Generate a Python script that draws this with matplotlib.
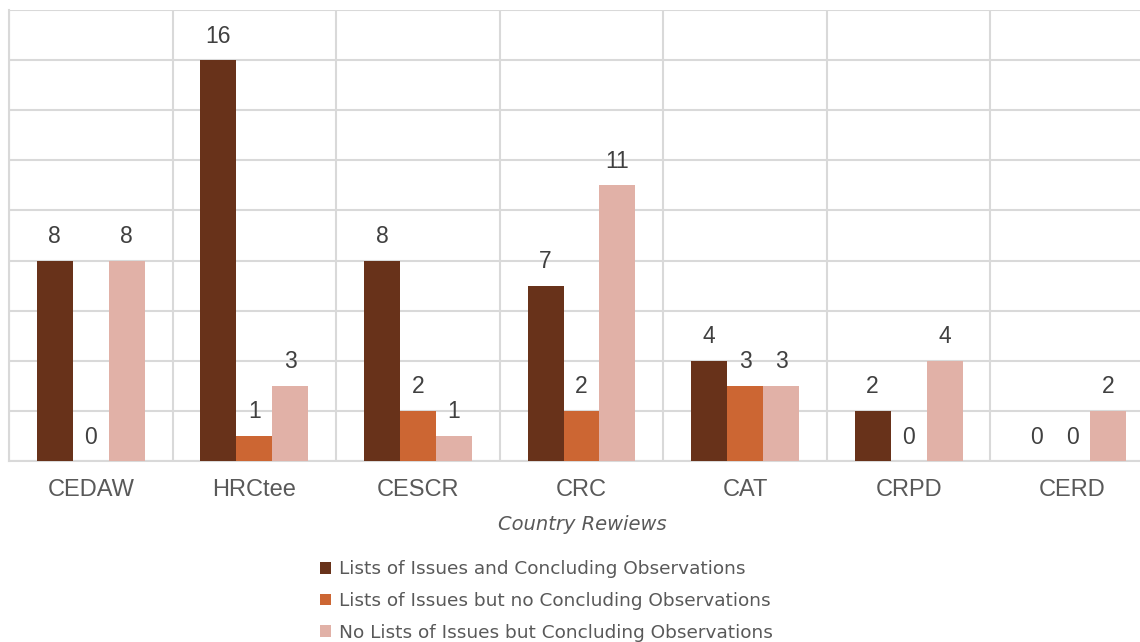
import numpy as np
import matplotlib.pyplot as plt

categories = ["CEDAW", "HRCtee", "CESCR", "CRC", "CAT", "CRPD", "CERD"]
lists_and_obs = [8, 16, 8, 7, 4, 2, 0]
lists_no_obs = [0, 1, 2, 2, 3, 0, 0]
no_lists_obs = [8, 3, 1, 11, 3, 4, 2]
series_names = ["Lists of Issues and Concluding Observations",
                "Lists of Issues but no Concluding Observations",
                "No Lists of Issues but Concluding Observations"]
colors = ["#68321A", "#CC6633", "#E1B1A7"]

text_color = "#595959"
grid_color = "#D9D9D9"

fig = plt.figure(figsize=(11.4, 6.42), dpi=100)
ax = fig.add_axes([9 / 1140, 181 / 642, 1145 / 1140, 451 / 642])

x = np.arange(len(categories))
width = 0.22
for i, (vals, name, c) in enumerate(zip([lists_and_obs, lists_no_obs, no_lists_obs], series_names, colors)):
    pos = x + (i - 1) * width
    bars = ax.bar(pos, vals, width, color=c, label=name, zorder=3)
    for p, v in zip(pos, vals):
        ax.annotate(str(v), (p, v), xytext=(0, 9), textcoords="offset points",
                    ha="center", va="bottom", fontsize=16.5, color="#404040",
                    family="Liberation Sans")

ax.set_xlim(-0.5, len(categories) - 0.5)
ax.set_ylim(0, 18)
ax.set_yticks(np.arange(0, 19, 2))
ax.set_xticks(np.arange(len(categories) + 1) - 0.5, minor=True)
ax.set_xticks(x)
ax.set_xticklabels(categories, fontsize=17, color=text_color, family="Liberation Sans")
ax.tick_params(axis="x", which="both", length=0, pad=13)
ax.tick_params(axis="y", length=0, labelleft=False)
ax.grid(axis="y", color=grid_color, linewidth=1.5, zorder=0)
ax.grid(axis="x", which="minor", color=grid_color, linewidth=1.5, zorder=0)
for s in ["top", "right"]:
    ax.spines[s].set_visible(False)
ax.spines["left"].set_color(grid_color)
ax.spines["left"].set_linewidth(1.5)
ax.spines["bottom"].set_color(grid_color)
ax.spines["bottom"].set_linewidth(1.5)

fig.text(582 / 1140, 1 - 525 / 642, "Country Rewiews", ha="center", va="center",
         fontsize=14, style="italic", color=text_color, family="DejaVu Sans")

leg = fig.legend(loc="upper left", bbox_to_anchor=(313 / 1140, 1 - 553 / 642),
                 frameon=False, handlelength=0.6, handleheight=0.6,
                 handletextpad=0.42, labelspacing=0.74, borderaxespad=0,
                 prop={"family": "DejaVu Sans", "size": 13.3})
for t in leg.get_texts():
    t.set_color(text_color)

fig.savefig("out.png", dpi=100)
